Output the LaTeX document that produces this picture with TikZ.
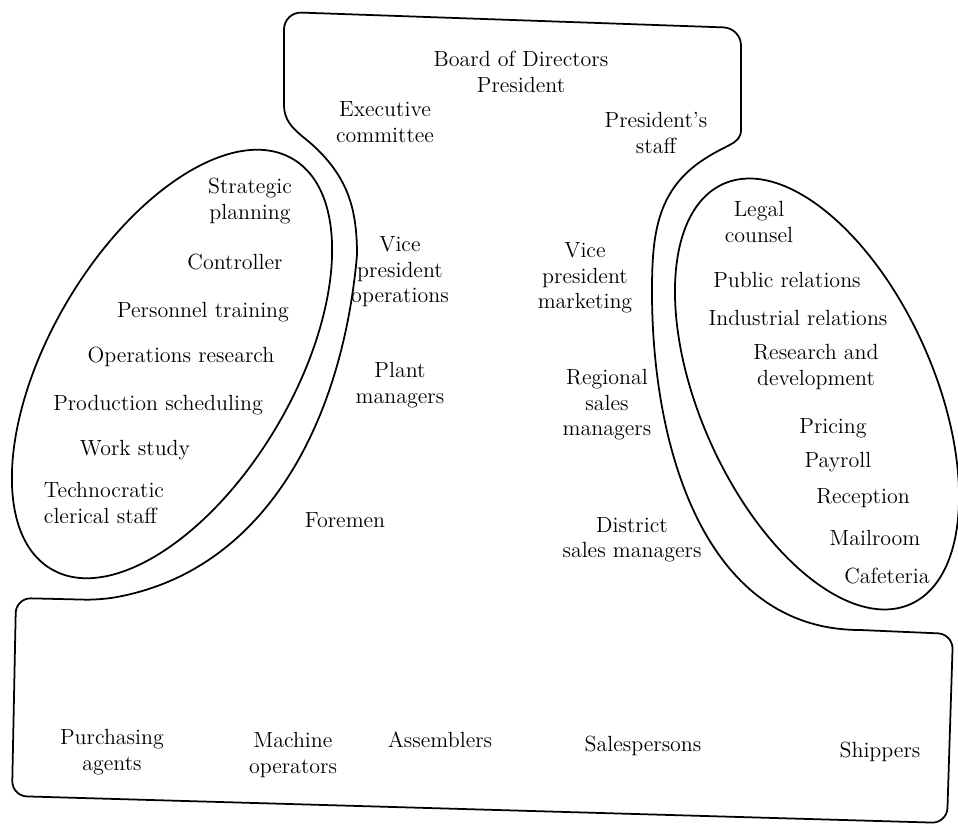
\documentclass[tikz,border=0pt]{standalone}
\usepackage{tikz}
\begin{document}
\begin{tikzpicture}[x=0.02cm,y=-0.02cm,
  every node/.style={align=center,inner sep=0pt,font=\fontsize{12.5}{14.5}\selectfont},
  outline/.style={line width=1pt,line join=round}]

\useasboundingbox (0,0) rectangle (958,824);

% outer shape
\draw[outline] (284,105) [rounded corners=0.35cm] -- (284,12) -- (741,28) -- (741,112) [sharp corners]
  to[out=-90,in=35,looseness=1.3] (700,162) to[out=215,in=90] (652,292)
  to[out=-90,in=180] (860,630)
  [rounded corners=0.3cm] -- (953,634) -- (947,823) -- (12,796) -- (16,598) -- (100,600) [sharp corners]
  to[out=10,in=-95] (357,255)
  to[out=90,in=-45] (318,150) to[out=135,in=-90] (284,105) -- cycle;

% staff ellipses
\draw[outline,rotate around={59.5:(172,364)}] (172,364) ellipse [x radius=238,y radius=122];
\draw[outline,rotate around={-66:(817,394)}] (817,394) ellipse [x radius=230,y radius=117];

% strategic apex
\node (board) at (521,72) {Board of Directors\\President};
\node (exec) at (385,122) {Executive\\committee};
\node (pstaff) at (656,133) {President's\\staff};

% middle line
\node (vpo) at (400,272) {Vice\\president\\operations};
\node (vpm) at (585,278) {Vice\\president\\marketing};
\node (plant) at (400,385) {Plant\\managers};
\node (region) at (607,405) {Regional\\sales\\managers};
\node (foremen) at (345,520) {Foremen};
\node (district) at (632,540) {District\\sales managers};

% technostructure
\node (strat) at (250,201) {Strategic\\planning};
\node (control) at (235,262) {Controller};
\node (personnel) at (203,312) {Personnel training};
\node (opres) at (181,357) {Operations research};
\node (prodsched) at (158,405) {Production scheduling};
\node (workstudy) at (135,450) {Work study};
\node[align=left] (techno) at (104,503) {Technocratic\\clerical staff};

% support staff
\node (legal) at (759,222) {Legal\\counsel};
\node (public) at (787,280) {Public relations};
\node (industrial) at (798,318) {Industrial relations};
\node (rnd) at (816,367) {Research and\\development};
\node (pricing) at (833,428) {Pricing};
\node (payroll) at (838,462) {Payroll};
\node (reception) at (863,498) {Reception};
\node (mail) at (875,538) {Mailroom};
\node (cafe) at (887,576) {Cafeteria};

% operating core
\node (purch) at (112,752) {Purchasing\\agents};
\node (machine) at (293,755) {Machine\\operators};
\node (assem) at (440,740) {Assemblers};
\node (sales) at (643,746) {Salespersons};
\node (ship) at (880,752) {Shippers};

\end{tikzpicture}
\end{document}
